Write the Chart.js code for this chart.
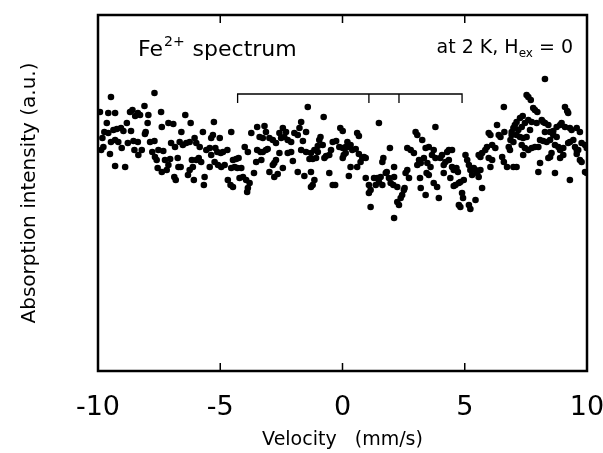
<!DOCTYPE html>
<html>
<head>
<meta charset="utf-8">
<script src="https://cdn.jsdelivr.net/npm/chart.js@4.4.0/dist/chart.umd.min.js"></script>
<style>
  html, body { margin: 0; background: #fff; }
  #wrap { width: 603px; height: 453px; }
</style>
</head>
<body>
<div id="wrap"><canvas id="spectrum"></canvas></div>
<script>
// velocity (mm/s) and absorption intensity (a.u.)
const velocity = [
  -9.92,-9.47,-9.58,-9.30,-9.64,-9.74,-9.58,-9.37,-9.23,-9.06,
  -8.96,-8.82,-8.65,-8.69,-8.59,-8.48,-8.37,-8.28,-8.10,-7.94,
  -7.97,-8.05,-8.08,-7.69,-7.42,-7.39,-7.12,-6.92,-9.87,-9.78,
  -9.82,-9.51,-9.47,-9.30,-9.17,-9.03,-8.78,-8.55,-8.37,-8.51,
  -8.35,-8.21,-7.87,-7.69,-7.78,-7.67,-7.60,-7.53,-7.33,-7.26,
  -7.56,-7.39,-7.19,-7.12,-7.05,-7.01,-6.85,-6.88,-6.82,-6.74,
  -6.71,-9.30,-8.89,
  -6.43,-6.21,-6.59,-6.66,-6.53,-6.39,-6.25,-6.05,-5.98,-5.84,
  -5.71,-5.57,-5.43,-5.37,-5.30,-5.26,-5.02,-5.20,-5.12,-4.98,
  -4.89,-4.71,-4.55,-4.48,-4.35,-4.25,-4.00,-3.87,-3.73,-3.49,
  -3.39,-3.35,-3.49,-3.32,-3.53,-3.62,-3.80,-3.94,-4.07,-4.21,
  -4.30,-4.14,-4.41,-4.55,-4.69,-4.58,-4.48,-4.82,-4.96,-5.09,
  -5.23,-5.37,-5.43,-5.64,-5.67,-6.08,-6.32,-6.25,-6.12,-6.16,
  -5.98,-5.88,-5.78,-6.62,-3.87,-3.90,
  -1.42,-0.77,-1.69,-3.19,-3.13,-3.26,-2.99,-2.85,-2.72,-2.58,
  -2.44,-2.31,-2.38,-2.24,-2.10,-1.97,-1.83,-1.76,-1.62,-1.49,
  -2.51,-3.13,-3.26,-3.06,-2.58,-2.24,-2.10,-2.72,-2.79,-2.85,
  -2.99,-2.79,-2.65,-2.44,-2.03,-1.83,-1.56,-1.29,-1.69,-1.49,
  -1.29,-1.15,-1.01,-1.35,-1.22,-1.08,-0.95,-0.90,-0.81,-1.01,
  -0.67,-0.74,-0.54,-0.47,-0.40,-0.26,-0.13,0.01,0.05,-0.09,
  0.01,-0.54,-0.40,-0.30,-1.15,-1.22,-1.29,0.01,
  1.49,0.60,0.67,0.20,0.13,0.26,0.33,0.40,0.54,0.67,
  0.81,0.88,0.74,0.60,0.33,0.26,0.13,0.95,1.94,1.67,
  1.63,0.95,1.08,1.15,1.08,1.15,1.29,1.36,1.42,1.49,
  1.56,1.63,1.77,1.81,1.90,1.97,2.11,2.11,2.08,2.24,
  2.31,2.24,2.38,2.44,2.51,2.54,2.11,2.58,2.65,2.72,
  2.65,2.79,2.92,2.99,3.06,3.26,3.13,3.20,3.06,3.33,
  3.40,3.47,3.17,3.20,3.40,3.44,
  3.80,6.60,3.53,3.73,3.66,3.80,3.60,3.53,3.73,3.87,
  3.94,4.07,4.00,4.14,4.14,4.21,4.28,4.35,4.48,4.35,
  4.48,4.55,4.66,4.72,4.41,4.55,4.62,4.76,4.82,4.96,
  4.89,4.93,4.76,4.82,5.17,5.23,5.44,5.03,5.10,5.17,
  5.23,5.30,5.37,5.44,5.51,5.57,5.64,5.71,5.57,5.64,
  5.71,5.84,5.91,5.98,6.05,6.12,6.25,6.32,6.39,6.46,
  6.62,6.53,6.60,6.73,6.05,5.98,6.12,6.80,6.87,
  8.28,7.53,7.60,7.70,7.80,7.87,7.97,9.10,9.19,9.23,
  7.37,7.26,7.12,7.05,6.99,6.92,7.19,7.33,7.46,7.60,
  7.74,7.94,8.15,8.21,8.28,8.42,8.49,8.62,8.76,8.90,
  8.96,9.10,9.30,9.37,9.58,9.71,6.92,7.12,7.26,7.39,
  7.53,6.99,7.33,7.46,7.60,7.74,7.87,8.01,8.08,8.21,
  8.35,8.49,8.62,8.76,8.69,8.83,8.90,9.03,9.23,9.30,
  9.44,9.51,9.58,9.64,9.78,9.92,9.99,6.85,7.39,6.99,
  7.12,8.08,8.01,8.42,8.49,8.55,8.69,8.90,9.03,9.58,
  9.71,9.78,9.92,9.99,9.30,8.28,7.67
];
const intensity = [
  259,274,258,258,248,239,238,241,242,243,
  240,248,240,259,261,255,258,256,265,256,
  248,239,237,278,259,244,248,247,221,224,
  233,217,229,231,229,223,228,230,229,221,
  216,221,229,230,219,214,211,221,220,211,
  203,199,201,206,212,228,224,194,191,213,
  204,205,204,
  256,248,239,229,226,228,229,233,228,224,
  239,221,223,233,236,249,233,223,219,218,
  219,221,239,211,212,213,224,219,238,244,
  234,219,221,211,209,198,188,191,194,193,
  203,203,204,203,191,186,184,206,204,206,
  209,216,204,194,186,191,196,201,204,211,
  211,213,209,204,183,179,
  264,254,249,245,239,233,233,231,228,238,
  243,239,234,231,229,238,236,243,230,239,
  233,221,219,222,218,218,219,211,208,206,
  199,194,197,203,210,199,195,199,221,219,
  218,221,219,212,212,213,231,234,226,225,
  215,213,216,221,229,230,224,223,216,243,
  240,198,186,186,191,186,184,213,
  248,238,235,229,224,224,226,221,222,217,
  213,214,209,204,204,195,218,213,223,213,
  209,193,186,181,178,164,193,186,193,189,
  194,186,198,199,193,188,204,194,186,184,
  166,169,173,176,181,183,153,198,201,193,
  223,221,218,239,236,231,211,208,206,213,
  223,208,193,183,176,198,
  244,264,224,221,216,213,204,196,188,184,
  173,216,213,206,198,209,219,221,221,211,
  204,201,203,199,193,185,186,188,189,191,
  178,173,166,164,166,162,171,216,211,206,
  201,196,203,201,198,194,201,183,216,214,
  218,221,224,238,236,226,223,246,236,234,
  239,214,209,204,204,213,211,224,231,
  292,276,274,271,263,261,259,264,260,258,
  255,253,249,246,243,239,241,244,248,251,
  249,248,251,249,248,246,239,240,244,246,
  248,244,243,241,243,239,236,236,234,233,
  234,229,226,223,221,223,224,224,231,230,
  229,231,236,234,226,224,221,223,228,229,
  231,224,221,221,228,226,223,221,216,204,
  204,208,199,213,214,218,198,213,216,217,
  211,209,199,198,191,239,241
];

// stick diagram above the data (line positions in mm/s)
const bracketLines = [-4.29, 1.08, 2.31, 4.89];
const bracketTop = 277;
const bracketFoot = 268;

const xTicks = [-10, -5, 0, 5, 10];
const innerTicks = [-5, 0, 5];

const FONT = '"DejaVu Sans"';

const points = velocity.map((v, i) => ({ x: v, y: intensity[i] }));

const lineStyle = {
  type: 'line',
  showLine: true,
  borderColor: '#000',
  borderWidth: 1.3,
  pointRadius: 0,
  fill: false
};
const outline = [
  { x: bracketLines[0], y: bracketFoot },
  { x: bracketLines[0], y: bracketTop },
  { x: bracketLines[3], y: bracketTop },
  { x: bracketLines[3], y: bracketFoot }
];

const framePlugin = {
  id: 'frame',
  afterDraw(chart) {
    const { ctx, chartArea: a, scales: { x } } = chart;
    ctx.save();
    ctx.strokeStyle = '#000';
    ctx.lineWidth = 2.5;
    ctx.strokeRect(a.left, a.top, a.right - a.left, a.bottom - a.top);
    ctx.lineWidth = 1.5;
    ctx.beginPath();
    innerTicks.forEach(v => {
      const px = x.getPixelForValue(v);
      ctx.moveTo(px, a.bottom);
      ctx.lineTo(px, a.bottom - 8);
      ctx.moveTo(px, a.top);
      ctx.lineTo(px, a.top + 8);
    });
    ctx.stroke();

    // labels inside the frame
    ctx.fillStyle = '#000';
    ctx.textBaseline = 'alphabetic';
    ctx.textAlign = 'left';
    let tx = a.left + 40;
    const ty = a.top + 41;
    ctx.font = '22px ' + FONT;
    ctx.fillText('Fe', tx, ty);
    tx += ctx.measureText('Fe').width + 1;
    ctx.font = '14px ' + FONT;
    ctx.fillText('2+', tx, ty - 10);
    tx += ctx.measureText('2+').width + 8;
    ctx.font = '22px ' + FONT;
    ctx.fillText('spectrum', tx, ty);

    const head = 'at 2 K, H';
    const tail = ' = 0';
    const rx = a.right - 14;
    const ry = a.top + 38;
    ctx.font = '19px ' + FONT;
    const wHead = ctx.measureText(head).width;
    const wTail = ctx.measureText(tail).width;
    ctx.font = '12px ' + FONT;
    const wSub = ctx.measureText('ex').width;
    const sx = rx - wTail - wSub - wHead;
    ctx.font = '19px ' + FONT;
    ctx.fillText(head, sx, ry);
    ctx.fillText(tail, sx + wHead + wSub, ry);
    ctx.font = '12px ' + FONT;
    ctx.fillText('ex', sx + wHead, ry + 4);
    ctx.restore();
  }
};

new Chart(document.getElementById('spectrum'), {
  type: 'scatter',
  data: {
    datasets: [
      {
        data: points,
        pointRadius: 3.3,
        pointBackgroundColor: '#000',
        pointBorderWidth: 0
      },
      Object.assign({ data: outline }, lineStyle),
      Object.assign({ data: [{ x: bracketLines[1], y: bracketTop }, { x: bracketLines[1], y: bracketFoot }] }, lineStyle),
      Object.assign({ data: [{ x: bracketLines[2], y: bracketTop }, { x: bracketLines[2], y: bracketFoot }] }, lineStyle)
    ]
  },
  options: {
    responsive: true,
    maintainAspectRatio: false,
    animation: false,
    devicePixelRatio: 1,
    layout: { padding: { top: 15, right: 16, left: 0, bottom: 0 } },
    plugins: { legend: { display: false }, tooltip: { enabled: false } },
    scales: {
      x: {
        type: 'linear',
        min: -10,
        max: 10,
        afterBuildTicks: s => { s.ticks = xTicks.map(v => ({ value: v })); },
        afterFit: s => { s.height = 82; s.paddingLeft = 0; s.paddingRight = 0; },
        grid: { display: false, drawTicks: false },
        border: { display: false },
        ticks: { color: '#000', padding: 21, maxRotation: 0, font: { family: 'DejaVu Sans', size: 27 } },
        title: {
          display: true,
          text: 'Velocity   (mm/s)',
          color: '#000',
          padding: { top: 0, bottom: 2 },
          font: { family: 'DejaVu Sans', size: 19 }
        }
      },
      y: {
        min: 0,
        max: 356,
        afterFit: s => { s.width = 98; },
        grid: { display: false, drawTicks: false },
        border: { display: false },
        ticks: { display: false },
        title: {
          display: true,
          text: 'Absorption intensity (a.u.)',
          color: '#000',
          padding: { top: 18, bottom: 0 },
          font: { family: 'DejaVu Sans', size: 20 }
        }
      }
    }
  },
  plugins: [framePlugin]
});
</script>
</body>
</html>
